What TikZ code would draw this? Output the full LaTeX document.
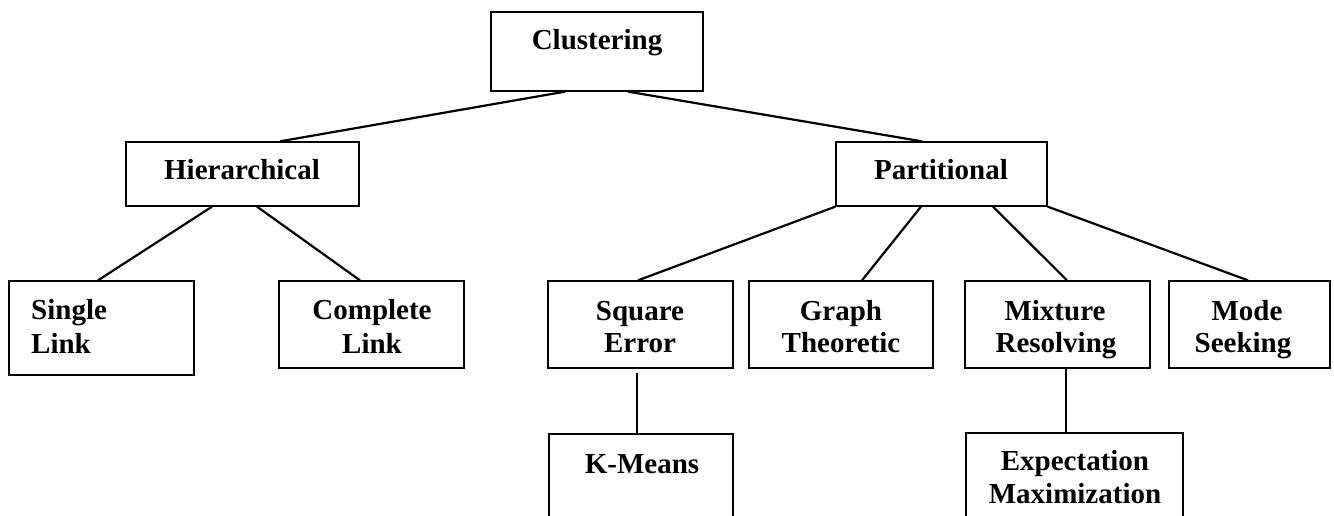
\documentclass[tikz,border=0pt]{standalone}
\usepackage{fontspec}
\setmainfont{Liberation Serif}
\usetikzlibrary{calc}
\begin{document}
\begin{tikzpicture}[x=1pt,y=-1pt,
  box/.style={draw=black,line width=1.3pt,rectangle,inner sep=0pt,fill=white},
  lbl/.style={font=\fontsize{29}{33}\selectfont\bfseries,inner sep=0pt,anchor=base},
  edge/.style={line width=2.2pt}]
\clip (0,0) rectangle (1334,516);
\fill[white] (0,0) rectangle (1334,516);

% boxes
\node[box,minimum width=212pt,minimum height=79pt] (clus) at (597,51.5) {};
\node[box,minimum width=233pt,minimum height=64pt] (hier) at (242.5,174) {};
\node[box,minimum width=211pt,minimum height=64pt] (part) at (941.5,174) {};
\node[box,minimum width=185pt,minimum height=94pt] (single) at (101.5,328) {};
\node[box,minimum width=185pt,minimum height=87pt] (complete) at (371.5,324.5) {};
\node[box,minimum width=185pt,minimum height=87pt] (square) at (640.5,324.5) {};
\node[box,minimum width=184pt,minimum height=87pt] (graph) at (841,324.5) {};
\node[box,minimum width=185pt,minimum height=87pt] (mixture) at (1057.5,324.5) {};
\node[box,minimum width=161pt,minimum height=87pt] (mode) at (1249.5,324.5) {};
\node[box,minimum width=184pt,minimum height=106pt] (kmeans) at (641,487) {};
\node[box,minimum width=217pt,minimum height=107pt] (em) at (1074.5,486.5) {};

% labels
\node[lbl] (tclus) at (597,50) {Clustering};
\node[lbl] (thier) at (242,180) {Hierarchical};
\node[lbl] (tpart) at (941,180) {Partitional};
\node[lbl,anchor=base west] (tsingle1) at (31,319) {Single};
\node[lbl,anchor=base west] (tsingle2) at (31,353) {Link};
\node[lbl] (tcomp1) at (372,319) {Complete};
\node[lbl] (tcomp2) at (372,353) {Link};
\node[lbl] (tsq1) at (640,320) {Square};
\node[lbl] (tsq2) at (640,352) {Error};
\node[lbl] (tgr1) at (841,320) {Graph};
\node[lbl] (tgr2) at (841,352) {Theoretic};
\node[lbl] (tmix1) at (1055,320) {Mixture};
\node[lbl] (tmix2) at (1056,352) {Resolving};
\node[lbl] (tmode1) at (1247,320) {Mode};
\node[lbl] (tmode2) at (1243,352) {Seeking};
\node[lbl] (tkm) at (642,473) {K-Means};
\node[lbl] (tem1) at (1075,470) {Expectation};
\node[lbl] (tem2) at (1075,503) {Maximization};

% connectors
\draw[edge] ([xshift=-32pt]clus.south) -- ([xshift=37.5pt]hier.north);
\draw[edge] ([xshift=31pt]clus.south) -- ([xshift=-19.5pt]part.north);
\draw[edge] ([xshift=-30.5pt]hier.south) -- ([xshift=-3.5pt]single.north);
\draw[edge] ([xshift=14.5pt]hier.south) -- ([xshift=-11.5pt]complete.north);
\draw[edge] (part.south west) -- ([xshift=-2.5pt]square.north);
\draw[edge] ([xshift=-20.5pt]part.south) -- ([xshift=21pt]graph.north);
\draw[edge] ([xshift=51.5pt]part.south) -- ([xshift=9.5pt]mixture.north);
\draw[edge] (part.south east) -- ([xshift=-1.5pt]mode.north);
\draw[edge,shorten <=4pt] ([xshift=-3.5pt]square.south) -- ([xshift=-4pt]kmeans.north);
\draw[edge] ([xshift=8.5pt]mixture.south) -- ([xshift=-8.5pt]em.north);
\end{tikzpicture}
\end{document}
